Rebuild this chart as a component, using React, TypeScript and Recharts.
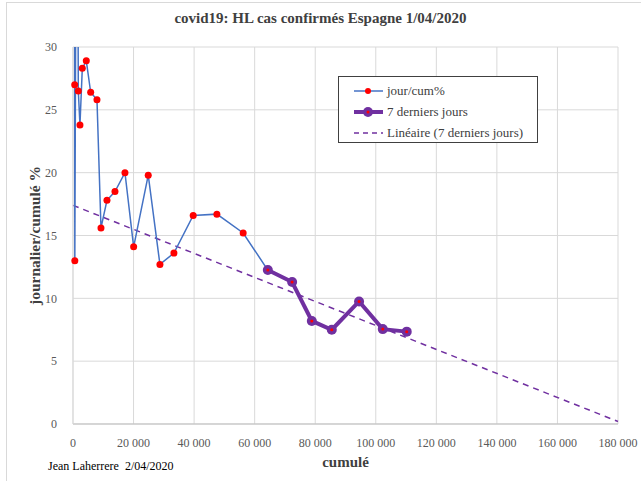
import React from 'react';
import { LineChart, Line, XAxis, YAxis, CartesianGrid, Label } from 'recharts';

// jour/cum% : cumulated confirmed cases vs daily/cumulated ratio (%)
const cumul = [300, 560, 600, 1300, 1750, 2300, 3070, 4390, 5840, 7920, 9240, 11220, 13860, 17160, 20030, 24850, 28710, 33330, 39700, 47520, 56200, 64350, 72370, 78870, 85470, 94480, 102300, 110220];
const ratio = [100, 27, 13, 60, 26.5, 23.8, 28.3, 28.9, 26.4, 25.8, 15.6, 17.8, 18.5, 20.0, 14.1, 19.8, 12.7, 13.6, 16.6, 16.7, 15.2, 12.25, 11.3, 8.2, 7.5, 9.75, 7.55, 7.35];

// 7 derniers jours
const lastCumul = [64350, 72370, 78870, 85470, 94480, 102300, 110220];
const lastRatio = [12.25, 11.3, 8.2, 7.5, 9.75, 7.55, 7.35];

// Linéaire (7 derniers jours)
const trendCumul = [0, 180000];
const trendRatio = [17.4, 0.2];

const xTicks = [0, 20000, 40000, 60000, 80000, 100000, 120000, 140000, 160000, 180000];
const yTicks = [0, 5, 10, 15, 20, 25, 30];

const mainData = cumul.map((x, i) => ({ x, y: ratio[i] }));
const lastData = lastCumul.map((x, i) => ({ x, y: lastRatio[i] }));
const trendData = trendCumul.map((x, i) => ({ x, y: trendRatio[i] }));

const FONT = '"Liberation Serif", "Times New Roman", serif';

const fmt = (v: number) => String(v).replace(/\B(?=(\d{3})+(?!\d))/g, ' ');

const PurpleDot = (props: any) => {
  const { cx, cy } = props;
  if (cx == null || cy == null) return null;
  return (
    <g>
      <circle cx={cx} cy={cy} r={5} fill="#7030A0" />
      <circle cx={cx} cy={cy} r={1.5} fill="#FF0000" />
    </g>
  );
};

const legendItems = [
  { label: 'jour/cum%', kind: 'main' },
  { label: '7 derniers jours', kind: 'last' },
  { label: 'Linéaire (7 derniers jours)', kind: 'trend' },
];

export default function App() {
  return (
    <div style={{ position: 'absolute', left: 0, top: 0, width: 641, height: 481, background: '#fff', fontFamily: FONT, overflow: 'hidden' }}>
      <div style={{ position: 'absolute', left: 6, top: 2, width: 700, height: 560, border: '1px solid #D9D9D9' }} />
      <div style={{ position: 'absolute', left: 0, top: 10, width: 641, textAlign: 'center', fontSize: 15, fontWeight: 'bold', color: '#404040', fontFamily: FONT }}>
        covid19: HL cas confirmés Espagne 1/04/2020
      </div>
      <LineChart width={641} height={481} margin={{ top: 47, right: 23, left: 0, bottom: 0 }} style={{ position: 'absolute', left: 0, top: 0 }}>
        <CartesianGrid stroke="#D9D9D9" />
        <XAxis
          type="number"
          dataKey="x"
          domain={[0, 180000]}
          ticks={xTicks}
          tickFormatter={fmt}
          height={57}
          axisLine={{ stroke: '#BFBFBF' }}
          tickLine={false}
          tick={{ fill: '#595959', fontSize: 12, fontFamily: FONT }}
          tickMargin={8}
        >
          <Label value="cumulé" position="insideBottom" offset={14} style={{ fill: '#404040', fontSize: 15, fontWeight: 'bold', fontFamily: FONT }} />
        </XAxis>
        <YAxis
          type="number"
          dataKey="y"
          domain={[0, 30]}
          ticks={yTicks}
          allowDataOverflow
          width={73}
          axisLine={{ stroke: '#D9D9D9' }}
          tickLine={false}
          tick={{ fill: '#595959', fontSize: 12, fontFamily: FONT }}
          tickMargin={10}
        >
          <Label value="journalier/cumulé %" angle={-90} position="insideLeft" offset={34} style={{ textAnchor: 'middle', fill: '#404040', fontSize: 15.5, fontWeight: 'bold', fontFamily: FONT }} />
        </YAxis>
        <Line data={trendData} dataKey="y" stroke="#7030A0" strokeWidth={1.5} strokeDasharray="6 5" dot={false} isAnimationActive={false} />
        <Line data={mainData} dataKey="y" stroke="#4472C4" strokeWidth={1.5} dot={{ r: 3.5, fill: '#FF0000', stroke: '#FF0000', strokeWidth: 0 }} isAnimationActive={false} />
        <Line data={lastData} dataKey="y" stroke="#7030A0" strokeWidth={4} dot={<PurpleDot />} isAnimationActive={false} />
      </LineChart>
      <div style={{ position: 'absolute', left: 338, top: 76, width: 198, height: 65, border: '1px solid #404040', background: '#fff', fontSize: 13, color: '#404040', fontFamily: FONT }}>
        {legendItems.map((e, i) => (
          <div key={i} style={{ position: 'absolute', left: 14, top: 4 + i * 21, height: 20, display: 'flex', alignItems: 'center', fontFamily: FONT, whiteSpace: 'nowrap' }}>
            <svg width={31} height={12} style={{ marginRight: 3 }}>
              {e.kind === 'main' && (
                <g>
                  <line x1={1} y1={6} x2={30} y2={6} stroke="#4472C4" strokeWidth={1.5} />
                  <circle cx={15} cy={6} r={3} fill="#FF0000" />
                </g>
              )}
              {e.kind === 'last' && (
                <g>
                  <line x1={1} y1={6} x2={30} y2={6} stroke="#7030A0" strokeWidth={4} />
                  <circle cx={15} cy={6} r={5} fill="#7030A0" />
                  <circle cx={15} cy={6} r={1.5} fill="#FF0000" />
                </g>
              )}
              {e.kind === 'trend' && <line x1={1} y1={6} x2={30} y2={6} stroke="#7030A0" strokeWidth={1.5} strokeDasharray="5 4" />}
            </svg>
            <span style={{ fontFamily: FONT }}>{e.label}</span>
          </div>
        ))}
      </div>
      <div style={{ position: 'absolute', left: 48, top: 459, fontSize: 12, color: '#000', fontFamily: FONT, whiteSpace: 'pre' }}>Jean Laherrere  2/04/2020</div>
    </div>
  );
}
